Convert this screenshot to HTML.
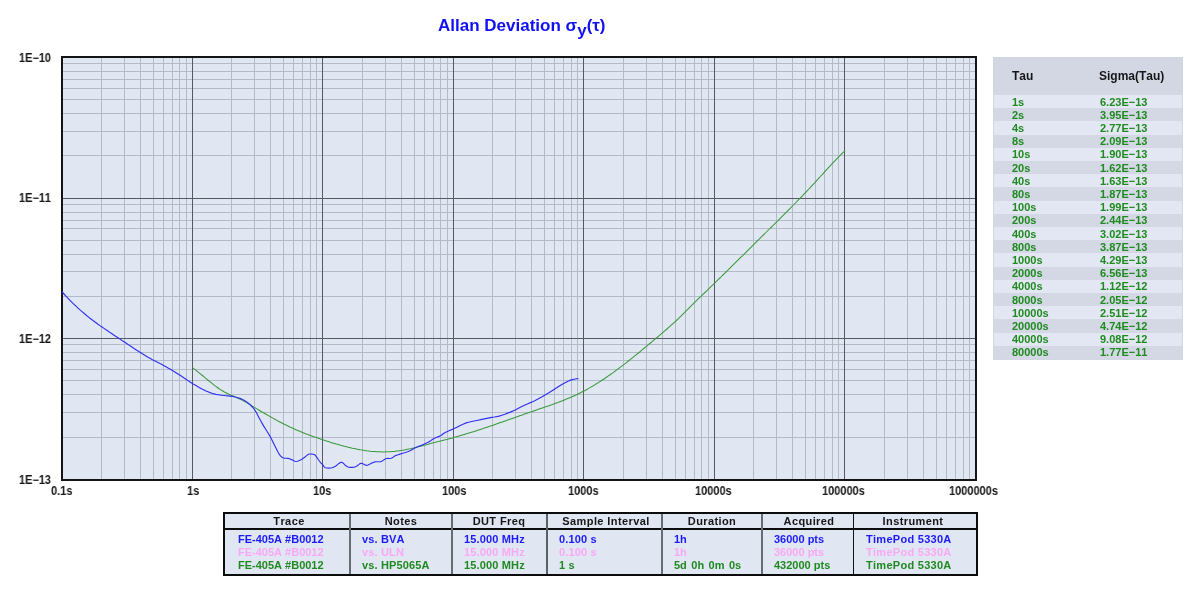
<!DOCTYPE html>
<html><head><meta charset="utf-8"><title>Allan Deviation</title><style>
html,body{margin:0;padding:0;background:#fff}
body{width:1200px;height:603px;overflow:hidden;position:relative;font-kerning:none;font-family:"Liberation Sans",Arial,sans-serif;font-weight:bold;font-size:11px;color:#161616}
#title{position:absolute;left:438px;top:16px;font-size:17px;color:#1010f4;white-space:nowrap;line-height:20px}
#title .sub{position:relative;top:5px}
svg{position:absolute;left:0;top:0}
#title,.xl,.yl,.rh,.c1,.c2,.lh,.ld{will-change:transform}
.xl{position:absolute;top:484px;font-size:12px;line-height:14px;transform:scaleX(0.917);transform-origin:0 0;white-space:nowrap}
.yl{position:absolute;left:0;width:51px;text-align:right;font-size:12px;line-height:14px;transform:scaleX(0.917);transform-origin:100% 0}
#rt{position:absolute;left:993px;top:57px;width:190px;height:303px;background:#d2d7e3}
.rh{position:absolute;top:12px;line-height:14px;font-size:12px;color:#161616}
.rr{position:absolute;left:1px;width:188px;height:13.3px;color:#1f8a1f;line-height:13px}
.rl{background:#e3e7f3}
.rd{background:#d3d8e4}
.c1{position:absolute;left:18px;top:0.5px}
.c2{position:absolute;left:106px;top:0.5px}
#lg{position:absolute;left:223px;top:512px;width:751px;height:60px;border:2px solid #0c0c0c;background:#e1e6f3}
#lg:before{content:"";position:absolute;left:0;top:14px;width:751px;height:2px;background:#0c0c0c}
.lh{position:absolute;top:1px;text-align:center;line-height:13px;color:#161616;letter-spacing:0.4px}
.ld{position:absolute;line-height:13px;white-space:nowrap}
.vd{position:absolute;top:0;height:60px}
</style></head><body>
<div id="title">Allan Deviation &#963;<span class="sub">y</span>(&#964;)</div>
<svg width="1200" height="603" viewBox="0 0 1200 603">
<g shape-rendering="crispEdges">
<rect x="61" y="56" width="916" height="425" fill="#e1e6f3"/>
<rect x="101" y="58" width="1" height="421" fill="#b3bbc8"/>
<rect x="124" y="58" width="1" height="421" fill="#b3bbc8"/>
<rect x="140" y="58" width="1" height="421" fill="#b3bbc8"/>
<rect x="153" y="58" width="1" height="421" fill="#b3bbc8"/>
<rect x="163" y="58" width="1" height="421" fill="#b3bbc8"/>
<rect x="172" y="58" width="1" height="421" fill="#b3bbc8"/>
<rect x="179" y="58" width="1" height="421" fill="#b3bbc8"/>
<rect x="186" y="58" width="1" height="421" fill="#b3bbc8"/>
<rect x="231" y="58" width="1" height="421" fill="#b3bbc8"/>
<rect x="254" y="58" width="1" height="421" fill="#b3bbc8"/>
<rect x="270" y="58" width="1" height="421" fill="#b3bbc8"/>
<rect x="283" y="58" width="1" height="421" fill="#b3bbc8"/>
<rect x="293" y="58" width="1" height="421" fill="#b3bbc8"/>
<rect x="302" y="58" width="1" height="421" fill="#b3bbc8"/>
<rect x="310" y="58" width="1" height="421" fill="#b3bbc8"/>
<rect x="316" y="58" width="1" height="421" fill="#b3bbc8"/>
<rect x="362" y="58" width="1" height="421" fill="#b3bbc8"/>
<rect x="385" y="58" width="1" height="421" fill="#b3bbc8"/>
<rect x="401" y="58" width="1" height="421" fill="#b3bbc8"/>
<rect x="414" y="58" width="1" height="421" fill="#b3bbc8"/>
<rect x="424" y="58" width="1" height="421" fill="#b3bbc8"/>
<rect x="433" y="58" width="1" height="421" fill="#b3bbc8"/>
<rect x="440" y="58" width="1" height="421" fill="#b3bbc8"/>
<rect x="447" y="58" width="1" height="421" fill="#b3bbc8"/>
<rect x="492" y="58" width="1" height="421" fill="#b3bbc8"/>
<rect x="515" y="58" width="1" height="421" fill="#b3bbc8"/>
<rect x="531" y="58" width="1" height="421" fill="#b3bbc8"/>
<rect x="544" y="58" width="1" height="421" fill="#b3bbc8"/>
<rect x="554" y="58" width="1" height="421" fill="#b3bbc8"/>
<rect x="563" y="58" width="1" height="421" fill="#b3bbc8"/>
<rect x="571" y="58" width="1" height="421" fill="#b3bbc8"/>
<rect x="577" y="58" width="1" height="421" fill="#b3bbc8"/>
<rect x="623" y="58" width="1" height="421" fill="#b3bbc8"/>
<rect x="646" y="58" width="1" height="421" fill="#b3bbc8"/>
<rect x="662" y="58" width="1" height="421" fill="#b3bbc8"/>
<rect x="675" y="58" width="1" height="421" fill="#b3bbc8"/>
<rect x="685" y="58" width="1" height="421" fill="#b3bbc8"/>
<rect x="694" y="58" width="1" height="421" fill="#b3bbc8"/>
<rect x="701" y="58" width="1" height="421" fill="#b3bbc8"/>
<rect x="708" y="58" width="1" height="421" fill="#b3bbc8"/>
<rect x="753" y="58" width="1" height="421" fill="#b3bbc8"/>
<rect x="776" y="58" width="1" height="421" fill="#b3bbc8"/>
<rect x="792" y="58" width="1" height="421" fill="#b3bbc8"/>
<rect x="805" y="58" width="1" height="421" fill="#b3bbc8"/>
<rect x="815" y="58" width="1" height="421" fill="#b3bbc8"/>
<rect x="824" y="58" width="1" height="421" fill="#b3bbc8"/>
<rect x="832" y="58" width="1" height="421" fill="#b3bbc8"/>
<rect x="838" y="58" width="1" height="421" fill="#b3bbc8"/>
<rect x="884" y="58" width="1" height="421" fill="#b3bbc8"/>
<rect x="907" y="58" width="1" height="421" fill="#b3bbc8"/>
<rect x="923" y="58" width="1" height="421" fill="#b3bbc8"/>
<rect x="936" y="58" width="1" height="421" fill="#b3bbc8"/>
<rect x="946" y="58" width="1" height="421" fill="#b3bbc8"/>
<rect x="955" y="58" width="1" height="421" fill="#b3bbc8"/>
<rect x="963" y="58" width="1" height="421" fill="#b3bbc8"/>
<rect x="969" y="58" width="1" height="421" fill="#b3bbc8"/>
<rect x="63" y="155" width="912" height="1" fill="#b3bbc8"/>
<rect x="63" y="131" width="912" height="1" fill="#b3bbc8"/>
<rect x="63" y="113" width="912" height="1" fill="#b3bbc8"/>
<rect x="63" y="99" width="912" height="1" fill="#b3bbc8"/>
<rect x="63" y="88" width="912" height="1" fill="#b3bbc8"/>
<rect x="63" y="79" width="912" height="1" fill="#b3bbc8"/>
<rect x="63" y="71" width="912" height="1" fill="#b3bbc8"/>
<rect x="63" y="63" width="912" height="1" fill="#b3bbc8"/>
<rect x="63" y="296" width="912" height="1" fill="#b3bbc8"/>
<rect x="63" y="271" width="912" height="1" fill="#b3bbc8"/>
<rect x="63" y="254" width="912" height="1" fill="#b3bbc8"/>
<rect x="63" y="240" width="912" height="1" fill="#b3bbc8"/>
<rect x="63" y="228" width="912" height="1" fill="#b3bbc8"/>
<rect x="63" y="220" width="912" height="1" fill="#b3bbc8"/>
<rect x="63" y="212" width="912" height="1" fill="#b3bbc8"/>
<rect x="63" y="204" width="912" height="1" fill="#b3bbc8"/>
<rect x="63" y="437" width="912" height="1" fill="#b3bbc8"/>
<rect x="63" y="412" width="912" height="1" fill="#b3bbc8"/>
<rect x="63" y="394" width="912" height="1" fill="#b3bbc8"/>
<rect x="63" y="380" width="912" height="1" fill="#b3bbc8"/>
<rect x="63" y="369" width="912" height="1" fill="#b3bbc8"/>
<rect x="63" y="360" width="912" height="1" fill="#b3bbc8"/>
<rect x="63" y="352" width="912" height="1" fill="#b3bbc8"/>
<rect x="63" y="344" width="912" height="1" fill="#b3bbc8"/>
<rect x="192" y="58" width="1" height="421" fill="#555a60"/>
<rect x="322" y="58" width="1" height="421" fill="#555a60"/>
<rect x="453" y="58" width="1" height="421" fill="#555a60"/>
<rect x="583" y="58" width="1" height="421" fill="#555a60"/>
<rect x="714" y="58" width="1" height="421" fill="#555a60"/>
<rect x="844" y="58" width="1" height="421" fill="#555a60"/>
<rect x="63" y="198" width="912" height="1" fill="#555a60"/>
<rect x="63" y="338" width="912" height="1" fill="#555a60"/>
<rect x="62" y="57" width="914" height="423" fill="none" stroke="#141414" stroke-width="2"/>
</g>
<g>
<polyline points="192.4,367.7 194.4,369.2 196.4,370.7 198.4,372.3 200.4,373.9 202.4,375.5 204.4,377.2 206.4,378.9 208.4,380.5 210.4,382.1 212.4,383.7 214.4,385.3 216.4,386.8 218.4,388.2 220.4,389.6 222.4,390.8 224.4,392.0 226.4,393.0 228.4,394.0 230.4,394.9 232.4,395.7 234.4,396.6 236.4,397.5 238.4,398.4 240.4,399.3 242.4,400.4 244.4,401.4 246.4,402.6 248.4,403.7 250.4,404.9 252.4,406.2 254.4,407.4 256.4,408.6 258.4,409.8 260.4,411.0 262.4,412.2 264.4,413.3 266.4,414.5 268.4,415.6 270.4,416.8 272.4,417.9 274.4,419.0 276.4,420.1 278.4,421.2 280.4,422.2 282.4,423.2 284.4,424.3 286.4,425.2 288.4,426.2 290.4,427.2 292.4,428.1 294.4,429.0 296.4,429.9 298.4,430.7 300.4,431.6 302.4,432.4 304.4,433.2 306.4,434.0 308.4,434.7 310.4,435.5 312.4,436.2 314.4,436.9 316.4,437.6 318.4,438.3 320.4,439.0 322.4,439.7 324.4,440.3 326.4,441.0 328.4,441.6 330.4,442.3 332.4,442.9 334.4,443.5 336.4,444.1 338.4,444.6 340.4,445.2 342.4,445.7 344.4,446.3 346.4,446.8 348.4,447.3 350.4,447.7 352.4,448.2 354.4,448.6 356.4,449.0 358.4,449.4 360.4,449.8 362.4,450.1 364.4,450.4 366.4,450.7 368.4,450.9 370.4,451.2 372.4,451.4 374.4,451.5 376.4,451.7 378.4,451.8 380.4,451.8 382.4,451.9 384.4,451.9 386.4,451.8 388.4,451.8 390.4,451.7 392.4,451.5 394.4,451.4 396.4,451.1 398.4,450.9 400.4,450.6 402.4,450.3 404.4,449.9 406.4,449.5 408.4,449.1 410.4,448.7 412.4,448.2 414.4,447.8 416.4,447.3 418.4,446.8 420.4,446.3 422.4,445.7 424.4,445.2 426.4,444.7 428.4,444.2 430.4,443.6 432.4,443.1 434.4,442.6 436.4,442.1 438.4,441.6 440.4,441.0 442.4,440.5 444.4,440.0 446.4,439.5 448.4,438.9 450.4,438.4 452.4,437.9 454.4,437.3 456.4,436.8 458.4,436.2 460.4,435.6 462.4,435.0 464.4,434.4 466.4,433.8 468.4,433.2 470.4,432.6 472.4,432.0 474.4,431.4 476.4,430.7 478.4,430.1 480.4,429.4 482.4,428.8 484.4,428.1 486.4,427.4 488.4,426.7 490.4,426.1 492.4,425.4 494.4,424.7 496.4,424.0 498.4,423.3 500.4,422.6 502.4,421.9 504.4,421.2 506.4,420.5 508.4,419.8 510.4,419.1 512.4,418.4 514.4,417.7 516.4,417.0 518.4,416.3 520.4,415.6 522.4,414.9 524.4,414.1 526.4,413.4 528.4,412.7 530.4,412.1 532.4,411.4 534.4,410.7 536.4,410.0 538.4,409.3 540.4,408.6 542.4,407.9 544.4,407.2 546.4,406.6 548.4,405.9 550.4,405.2 552.4,404.5 554.4,403.7 556.4,403.0 558.4,402.3 560.4,401.5 562.4,400.7 564.4,399.9 566.4,399.1 568.4,398.3 570.4,397.5 572.4,396.6 574.4,395.7 576.4,394.8 578.4,393.8 580.4,392.8 582.4,391.8 584.4,390.8 586.4,389.7 588.4,388.6 590.4,387.4 592.4,386.3 594.4,385.1 596.4,383.8 598.4,382.6 600.4,381.3 602.4,380.0 604.4,378.7 606.4,377.3 608.4,375.9 610.4,374.5 612.4,373.1 614.4,371.6 616.4,370.2 618.4,368.7 620.4,367.2 622.4,365.7 624.4,364.1 626.4,362.6 628.4,361.0 630.4,359.4 632.4,357.8 634.4,356.2 636.4,354.6 638.4,353.0 640.4,351.3 642.4,349.7 644.4,348.0 646.4,346.4 648.4,344.7 650.4,343.0 652.4,341.4 654.4,339.7 656.4,338.0 658.4,336.3 660.4,334.6 662.4,332.9 664.4,331.2 666.4,329.5 668.4,327.7 670.4,325.9 672.4,324.1 674.4,322.3 676.4,320.5 678.4,318.6 680.4,316.6 682.4,314.7 684.4,312.7 686.4,310.6 688.4,308.6 690.4,306.6 692.4,304.6 694.4,302.6 696.4,300.7 698.4,298.7 700.4,296.8 702.4,294.9 704.4,293.0 706.4,291.1 708.4,289.2 710.4,287.2 712.4,285.3 714.4,283.3 716.4,281.4 718.4,279.4 720.4,277.5 722.4,275.5 724.4,273.6 726.4,271.6 728.4,269.6 730.4,267.6 732.4,265.7 734.4,263.7 736.4,261.7 738.4,259.7 740.4,257.7 742.4,255.8 744.4,253.8 746.4,251.8 748.4,249.8 750.4,247.8 752.4,245.8 754.4,243.9 756.4,241.9 758.4,239.9 760.4,237.9 762.4,235.9 764.4,234.0 766.4,232.0 768.4,230.0 770.4,228.0 772.4,226.1 774.4,224.1 776.4,222.1 778.4,220.1 780.4,218.1 782.4,216.1 784.4,214.1 786.4,212.1 788.4,210.1 790.4,208.1 792.4,206.0 794.4,204.0 796.4,202.0 798.4,199.9 800.4,197.8 802.4,195.8 804.4,193.7 806.4,191.6 808.4,189.5 810.4,187.4 812.4,185.2 814.4,183.1 816.4,180.9 818.4,178.7 820.4,176.5 822.4,174.3 824.4,172.1 826.4,169.9 828.4,167.7 830.4,165.6 832.4,163.4 834.4,161.3 836.4,159.2 838.4,157.1 840.4,155.1 842.4,153.2 844.4,151.3 845.1,150.6" fill="none" stroke="#389a38" stroke-width="1.05" stroke-linejoin="round"/>
<polyline points="62.0,291.7 64.0,294.0 66.0,296.2 68.0,298.3 70.0,300.4 72.0,302.4 74.0,304.3 76.0,306.2 78.0,308.1 80.0,309.9 82.0,311.6 84.0,313.3 86.0,315.0 88.0,316.6 90.0,318.2 92.0,319.7 94.0,321.2 96.0,322.7 98.0,324.2 100.0,325.6 102.0,327.0 104.0,328.4 106.0,329.8 108.0,331.1 110.0,332.5 112.0,333.8 114.0,335.2 116.0,336.5 118.0,337.8 120.0,339.1 122.0,340.5 124.0,341.8 126.0,343.1 128.0,344.4 130.0,345.8 132.0,347.1 134.0,348.4 136.0,349.7 138.0,351.0 140.0,352.3 142.0,353.6 144.0,354.8 146.0,356.0 148.0,357.2 150.0,358.3 152.0,359.4 154.0,360.4 156.0,361.5 158.0,362.5 160.0,363.6 162.0,364.6 164.0,365.7 166.0,366.8 168.0,367.9 170.0,369.0 172.0,370.2 174.0,371.4 176.0,372.7 178.0,374.0 180.0,375.3 182.0,376.6 184.0,377.9 186.0,379.2 188.0,380.6 190.0,381.9 192.0,383.2 194.0,384.4 196.0,385.6 198.0,386.8 200.0,387.9 202.0,389.0 204.0,390.0 206.0,391.0 208.0,391.8 210.0,392.6 212.0,393.3 214.0,393.9 216.0,394.4 218.0,394.7 220.0,395.0 222.0,395.3 224.0,395.5 226.0,395.7 228.0,395.9 230.0,396.1 232.0,396.4 234.0,396.7 236.0,397.2 238.0,397.7 240.0,398.4 242.0,399.2 244.0,400.2 246.0,401.4 248.0,402.9 249.6,404.2 250.9,405.5 252.8,407.5 254.6,409.7 256.1,412.1 257.5,414.8 258.9,417.5 260.4,420.3 262.0,423.1 263.7,426.1 265.7,429.3 267.9,432.7 269.9,436.1 271.7,439.5 273.3,442.8 274.9,446.0 276.4,449.0 277.8,451.8 279.2,454.1 280.5,455.8 281.7,457.0 283.0,457.8 284.6,458.2 286.3,458.2 288.0,458.4 289.5,458.8 290.9,459.4 292.3,459.9 293.6,460.5 294.7,461.2 296.0,461.5 297.4,461.3 298.9,460.7 300.4,460.0 301.9,459.2 303.3,458.2 304.7,457.2 306.0,456.1 307.3,455.1 308.5,454.3 309.8,454.0 311.0,454.0 312.2,454.1 313.2,454.2 314.2,454.5 315.3,455.3 316.7,457.1 318.3,459.5 319.7,461.5 320.8,462.8 321.8,463.8 322.7,464.7 323.5,465.8 324.2,466.9 325.3,467.7 327.0,468.0 329.0,468.1 330.7,468.0 332.0,467.8 333.0,467.4 334.0,467.0 334.9,466.5 335.8,466.0 336.7,465.3 337.8,464.4 338.9,463.4 340.0,462.7 340.9,462.4 341.8,462.4 342.7,462.7 343.5,463.4 344.4,464.4 345.3,465.3 346.3,466.1 347.4,466.7 348.7,467.2 350.4,467.4 352.3,467.4 354.0,467.2 355.3,466.8 356.3,466.3 357.3,465.7 358.3,464.9 359.4,464.1 360.3,463.5 361.1,463.3 361.9,463.4 362.7,463.7 363.8,464.2 365.0,464.9 366.0,465.3 366.7,465.4 367.2,465.3 368.0,465.0 369.4,464.3 371.1,463.4 372.7,462.7 373.9,462.2 374.8,461.9 376.0,461.7 377.5,461.7 379.2,461.8 380.7,461.7 381.9,461.2 383.0,460.4 384.0,459.7 384.9,459.2 385.7,458.8 386.7,458.5 388.1,458.4 389.7,458.5 391.3,458.3 392.7,457.6 393.9,456.6 395.3,455.7 396.7,455.1 398.1,454.7 400.0,454.1 402.6,453.3 405.5,452.5 408.3,451.5 410.6,450.4 412.8,449.2 414.9,448.1 417.1,447.1 419.3,446.1 421.5,445.2 423.8,444.3 426.0,443.3 428.2,442.3 430.2,441.1 432.0,439.8 434.0,438.6 436.2,437.6 438.5,436.6 440.6,435.7 442.0,434.8 443.2,433.8 444.8,432.8 447.3,431.6 450.2,430.3 453.0,429.1 455.3,428.0 457.5,426.9 459.7,425.8 461.9,424.8 464.1,423.8 466.3,422.9 468.5,422.2 470.6,421.7 472.9,421.2 475.3,420.7 477.9,420.2 480.8,419.6 484.3,418.9 488.1,418.1 491.6,417.4 494.3,417.0 496.6,416.6 499.1,416.1 501.9,415.2 504.9,414.2 507.7,413.1 510.3,412.1 512.7,411.1 515.3,409.9 518.0,408.6 520.8,407.1 523.9,405.6 527.3,404.0 531.0,402.4 534.7,400.7 538.4,398.8 542.1,396.8 545.5,394.8 548.5,393.0 551.3,391.2 554.1,389.4 557.0,387.6 559.8,385.7 562.7,384.0 565.6,382.4 568.5,381.0 571.3,379.9 574.0,379.2 576.6,378.8 578.4,378.6" fill="none" stroke="#3030f2" stroke-width="1.15" stroke-linejoin="round"/>
</g>
</svg>
<div class="xl" style="left:51.0px">0.1s</div>
<div class="xl" style="left:186.7px">1s</div>
<div class="xl" style="left:313.0px">10s</div>
<div class="xl" style="left:441.8px">100s</div>
<div class="xl" style="left:568.2px">1000s</div>
<div class="xl" style="left:695.2px">10000s</div>
<div class="xl" style="left:821.5px">100000s</div>
<div class="xl" style="left:949.0px">1000000s</div>
<div class="yl" style="top:51px">1E&#8722;10</div>
<div class="yl" style="top:191px">1E&#8722;11</div>
<div class="yl" style="top:332px">1E&#8722;12</div>
<div class="yl" style="top:473px">1E&#8722;13</div>
<div id="rt">
<div class="rh" style="left:19px">Tau</div><div class="rh" style="left:106px">Sigma(Tau)</div>
<div class="rr rl" style="top:38.00px;height:13.2px"><span class="c1">1s</span><span class="c2">6.23E&#8722;13</span></div>
<div class="rr rd" style="top:51.20px;height:13.2px"><span class="c1">2s</span><span class="c2">3.95E&#8722;13</span></div>
<div class="rr rl" style="top:64.40px;height:13.2px"><span class="c1">4s</span><span class="c2">2.77E&#8722;13</span></div>
<div class="rr rd" style="top:77.60px;height:13.2px"><span class="c1">8s</span><span class="c2">2.09E&#8722;13</span></div>
<div class="rr rl" style="top:90.80px;height:13.2px"><span class="c1">10s</span><span class="c2">1.90E&#8722;13</span></div>
<div class="rr rd" style="top:104.00px;height:13.2px"><span class="c1">20s</span><span class="c2">1.62E&#8722;13</span></div>
<div class="rr rl" style="top:117.20px;height:13.2px"><span class="c1">40s</span><span class="c2">1.63E&#8722;13</span></div>
<div class="rr rd" style="top:130.40px;height:13.2px"><span class="c1">80s</span><span class="c2">1.87E&#8722;13</span></div>
<div class="rr rl" style="top:143.60px;height:13.2px"><span class="c1">100s</span><span class="c2">1.99E&#8722;13</span></div>
<div class="rr rd" style="top:156.80px;height:13.2px"><span class="c1">200s</span><span class="c2">2.44E&#8722;13</span></div>
<div class="rr rl" style="top:170.00px;height:13.2px"><span class="c1">400s</span><span class="c2">3.02E&#8722;13</span></div>
<div class="rr rd" style="top:183.20px;height:13.2px"><span class="c1">800s</span><span class="c2">3.87E&#8722;13</span></div>
<div class="rr rl" style="top:196.40px;height:13.2px"><span class="c1">1000s</span><span class="c2">4.29E&#8722;13</span></div>
<div class="rr rd" style="top:209.60px;height:13.2px"><span class="c1">2000s</span><span class="c2">6.56E&#8722;13</span></div>
<div class="rr rl" style="top:222.80px;height:13.2px"><span class="c1">4000s</span><span class="c2">1.12E&#8722;12</span></div>
<div class="rr rd" style="top:236.00px;height:13.2px"><span class="c1">8000s</span><span class="c2">2.05E&#8722;12</span></div>
<div class="rr rl" style="top:249.20px;height:13.2px"><span class="c1">10000s</span><span class="c2">2.51E&#8722;12</span></div>
<div class="rr rd" style="top:262.40px;height:13.2px"><span class="c1">20000s</span><span class="c2">4.74E&#8722;12</span></div>
<div class="rr rl" style="top:275.60px;height:13.2px"><span class="c1">40000s</span><span class="c2">9.08E&#8722;12</span></div>
<div class="rr rd" style="top:288.80px;height:13.2px"><span class="c1">80000s</span><span class="c2">1.77E&#8722;11</span></div>
</div>
<div id="lg">
<div class="lh" style="left:4.0px;width:120px">Trace</div>
<div class="lh" style="left:116.3px;width:120px">Notes</div>
<div class="lh" style="left:214.2px;width:120px">DUT Freq</div>
<div class="lh" style="left:320.6px;width:120px">Sample Interval</div>
<div class="lh" style="left:427.0px;width:120px">Duration</div>
<div class="lh" style="left:523.5px;width:120px">Acquired</div>
<div class="lh" style="left:628.2px;width:120px">Instrument</div>
<div class="ld" style="left:13px;top:19px;color:#1a1aff;">FE-405A #B0012</div>
<div class="ld" style="left:137px;top:19px;color:#1a1aff;letter-spacing:0.15px;">vs. BVA</div>
<div class="ld" style="left:239px;top:19px;color:#1a1aff;letter-spacing:0.15px;">15.000 MHz</div>
<div class="ld" style="left:334px;top:19px;color:#1a1aff;letter-spacing:0.15px;">0.100 s</div>
<div class="ld" style="left:449px;top:19px;color:#1a1aff;word-spacing:1.4px;">1h</div>
<div class="ld" style="left:549px;top:19px;color:#1a1aff;">36000 pts</div>
<div class="ld" style="left:641px;top:19px;color:#1a1aff;letter-spacing:0.28px;">TimePod 5330A</div>
<div class="ld" style="left:13px;top:32px;color:#f9a8f6;">FE-405A #B0012</div>
<div class="ld" style="left:137px;top:32px;color:#f9a8f6;letter-spacing:0.15px;">vs. ULN</div>
<div class="ld" style="left:239px;top:32px;color:#f9a8f6;letter-spacing:0.15px;">15.000 MHz</div>
<div class="ld" style="left:334px;top:32px;color:#f9a8f6;letter-spacing:0.15px;">0.100 s</div>
<div class="ld" style="left:449px;top:32px;color:#f9a8f6;word-spacing:1.4px;">1h</div>
<div class="ld" style="left:549px;top:32px;color:#f9a8f6;">36000 pts</div>
<div class="ld" style="left:641px;top:32px;color:#f9a8f6;letter-spacing:0.28px;">TimePod 5330A</div>
<div class="ld" style="left:13px;top:45px;color:#1f8a1f;">FE-405A #B0012</div>
<div class="ld" style="left:137px;top:45px;color:#1f8a1f;letter-spacing:0.15px;">vs. HP5065A</div>
<div class="ld" style="left:239px;top:45px;color:#1f8a1f;letter-spacing:0.15px;">15.000 MHz</div>
<div class="ld" style="left:334px;top:45px;color:#1f8a1f;letter-spacing:0.15px;">1 s</div>
<div class="ld" style="left:449px;top:45px;color:#1f8a1f;word-spacing:1.4px;">5d 0h 0m 0s</div>
<div class="ld" style="left:549px;top:45px;color:#1f8a1f;">432000 pts</div>
<div class="ld" style="left:641px;top:45px;color:#1f8a1f;letter-spacing:0.28px;">TimePod 5330A</div>
<div class="vd" style="left:124px;width:2px;background:#686c72"></div>
<div class="vd" style="left:226px;width:2px;background:#686c72"></div>
<div class="vd" style="left:321px;width:2px;background:#5c6066"></div>
<div class="vd" style="left:436px;width:2px;background:#686c72"></div>
<div class="vd" style="left:536px;width:2px;background:#686c72"></div>
<div class="vd" style="left:628px;width:1px;background:#111"></div>
</div>
</body></html>
